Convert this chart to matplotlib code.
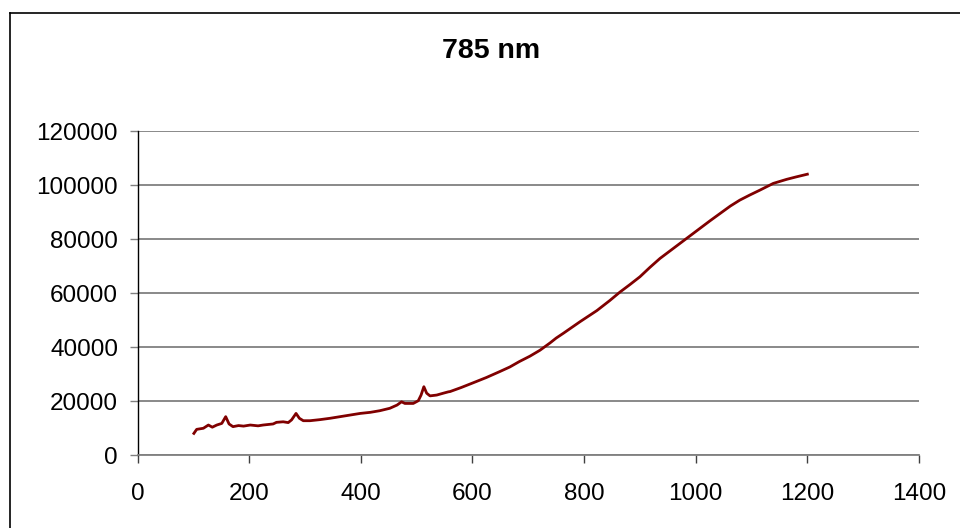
import numpy as np
import matplotlib.pyplot as plt
from matplotlib.lines import Line2D

plt.rcParams['font.family'] = ['Liberation Sans', 'DejaVu Sans']

# values (wavelength vs. counts)
wavelength = [101, 106, 118, 127, 134, 142, 151, 158, 164, 171, 181, 190, 202, 216, 225,
              243, 249, 261, 270, 276, 284, 290, 297, 309, 327, 345, 363, 381, 399, 417,
              434, 452, 465, 473, 479, 494, 503, 508, 513, 518, 524, 536, 548, 557, 560,
              580, 602, 625, 649, 667, 684, 703, 721, 739, 750, 763, 793, 823, 846, 864,
              882, 900, 918, 936, 954, 972, 990, 1008, 1026, 1044, 1062, 1079, 1097, 1115,
              1139, 1163, 1180, 1200]
counts = [8000, 9500, 9900, 11100, 10300, 11100, 11700, 14200, 11500, 10500, 10900, 10700,
          11100, 10800, 11100, 11500, 12100, 12300, 12000, 13000, 15400, 13600, 12700, 12700,
          13100, 13600, 14200, 14800, 15400, 15800, 16400, 17300, 18500, 19700, 19100, 19100,
          20100, 22200, 25300, 22900, 21900, 22200, 22900, 23400, 23500, 25000, 26800, 28700,
          30900, 32600, 34600, 36600, 38800, 41500, 43300, 45100, 49400, 53500, 57200, 60300,
          63100, 66000, 69500, 72800, 75600, 78400, 81200, 84000, 86800, 89500, 92200, 94400,
          96300, 98100, 100600, 102100, 103000, 104000]

x_ticks = [0, 200, 400, 600, 800, 1000, 1200, 1400]
y_ticks = [0, 20000, 40000, 60000, 80000, 100000, 120000]

fig = plt.figure(figsize=(9.6, 5.28), dpi=100)
ax = fig.add_axes([137.5 / 960, 1 - 455 / 528, (919 - 137.5) / 960, (455 - 131) / 528])

ax.plot(wavelength, counts, color='#800000', lw=2.0)

ax.set_xlim(0, 1400)
ax.set_ylim(0, 120000)
ax.set_xticks(x_ticks)
ax.set_yticks(y_ticks)
ax.yaxis.grid(True, color='#808080', lw=1.3)
ax.set_axisbelow(True)

for s in ['top', 'right']:
    ax.spines[s].set_visible(False)
ax.spines['left'].set_color('black')
ax.spines['left'].set_linewidth(1.0)
ax.spines['bottom'].set_color('#808080')
ax.spines['bottom'].set_linewidth(1.3)

ax.tick_params(axis='y', direction='out', length=6, width=1, color='#808080',
               labelsize=17.5, pad=8)
ax.tick_params(axis='x', direction='out', length=6, width=1, color='#404040',
               labelsize=17.5, pad=14)

fig.text(491 / 960, 1 - 50.5 / 528, '785 nm', ha='center', va='center',
         fontsize=20.5, fontweight='bold')

# chart-area frame (only top and left edges show in the crop)
fig.add_artist(Line2D([9.5 / 960, 1.0], [1 - 12.5 / 528, 1 - 12.5 / 528],
                      color='black', lw=1.2, transform=fig.transFigure))
fig.add_artist(Line2D([9.5 / 960, 9.5 / 960], [0, 1 - 12.5 / 528],
                      color='black', lw=1.2, transform=fig.transFigure))

fig.savefig('out.png', dpi=100)
